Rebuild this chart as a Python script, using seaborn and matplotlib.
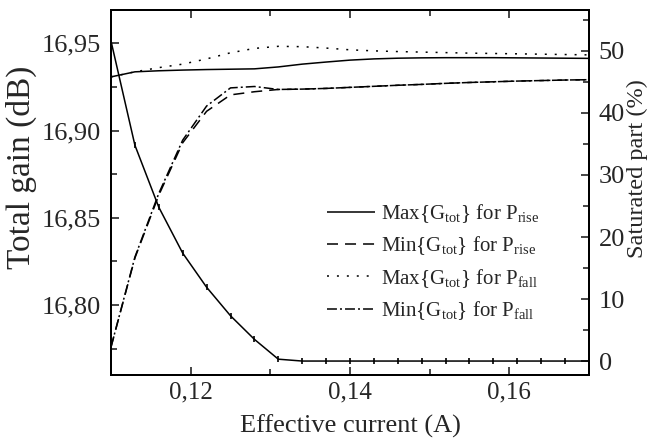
import matplotlib
matplotlib.use("Agg")
import matplotlib.pyplot as plt
import seaborn as sns
import pandas as pd
from matplotlib.ticker import MultipleLocator, FuncFormatter

# ---- data ----
current = [0.110, 0.113, 0.116, 0.119, 0.122, 0.125, 0.128, 0.131, 0.134, 0.137, 0.140,
           0.143, 0.146, 0.149, 0.152, 0.155, 0.158, 0.161, 0.164, 0.167, 0.170]
sat_part = [51.6, 34.8, 24.8, 17.4, 11.9, 7.3, 3.5, 0.3, 0.0, 0.0, 0.0,
            0.0, 0.0, 0.0, 0.0, 0.0, 0.0, 0.0, 0.0, 0.0, 0.0]
max_rise = [16.9307, 16.9336, 16.9342, 16.9346, 16.9349, 16.9351, 16.9353, 16.9364, 16.9380, 16.9392, 16.9403,
            16.9410, 16.9414, 16.9416, 16.9417, 16.9417, 16.9417, 16.9416, 16.9415, 16.9414, 16.9413]
min_rise = [16.7760, 16.8270, 16.8630, 16.8930, 16.9110, 16.9204, 16.9222, 16.9235, 16.9237, 16.9241, 16.9247,
            16.9253, 16.9259, 16.9264, 16.9270, 16.9275, 16.9279, 16.9283, 16.9286, 16.9289, 16.9291]
max_fall = [16.9307, 16.9336, 16.9360, 16.9380, 16.9410, 16.9445, 16.9470, 16.9482, 16.9480, 16.9472, 16.9462,
            16.9456, 16.9452, 16.9449, 16.9446, 16.9443, 16.9441, 16.9439, 16.9437, 16.9435, 16.9433]
min_fall = [16.7760, 16.8275, 16.8640, 16.8945, 16.9140, 16.9244, 16.9252, 16.9235, 16.9237, 16.9241, 16.9247,
            16.9253, 16.9259, 16.9264, 16.9270, 16.9275, 16.9279, 16.9283, 16.9286, 16.9289, 16.9291]

labels = [r"Max{G$_{\rm tot}$} for P$_{\rm rise}$",
          r"Min{G$_{\rm tot}$} for P$_{\rm rise}$",
          r"Max{G$_{\rm tot}$} for P$_{\rm fall}$",
          r"Min{G$_{\rm tot}$} for P$_{\rm fall}$"]

df = pd.DataFrame({"current": current, "sat": sat_part, "max_rise": max_rise,
                   "min_rise": min_rise, "max_fall": max_fall, "min_fall": min_fall})

sns.set_style("ticks")
plt.rcParams["font.family"] = ["Liberation Serif", "DejaVu Serif"]
plt.rcParams["mathtext.fontset"] = "custom"
plt.rcParams["mathtext.rm"] = "Liberation Serif"
plt.rcParams["mathtext.it"] = "Liberation Serif:italic"
plt.rcParams["mathtext.bf"] = "Liberation Serif:bold"

fig = plt.figure(figsize=(6.52, 4.41), dpi=100)
ax = fig.add_axes([111 / 652, 1 - 375 / 441, 478 / 652, 365 / 441])
ax2 = ax.twinx()

lw = 1.1
styles = [(0, ()), (0, (7.2, 4.6)), (0, (1.3, 5.2)), (0, (6.5, 2.0, 1.3, 2.0))]
cols = ["max_rise", "min_rise", "max_fall", "min_fall"]
for c, ls, lab in zip(cols, styles, labels):
    sns.lineplot(data=df, x="current", y=c, ax=ax, color="black", linewidth=lw,
                 linestyle=ls, label=lab)

sns.lineplot(data=df, x="current", y="sat", ax=ax2, color="black", linewidth=lw,
             marker="|", markersize=5, markeredgewidth=1.2, markeredgecolor="black")

ax.set_xlim(0.110, 0.170)
ax.set_ylim(16.760, 16.969)
ax2.set_ylim(-2.25, 56.6)

comma2 = FuncFormatter(lambda v, p: f"{v:.2f}".replace(".", ","))
ax.xaxis.set_major_locator(MultipleLocator(0.02))
ax.xaxis.set_minor_locator(MultipleLocator(0.01))
ax.xaxis.set_major_formatter(comma2)
ax.yaxis.set_major_locator(MultipleLocator(0.05))
ax.yaxis.set_minor_locator(MultipleLocator(0.025))
ax.yaxis.set_major_formatter(comma2)
ax2.yaxis.set_major_locator(MultipleLocator(10))
ax2.yaxis.set_minor_locator(MultipleLocator(5))

ax.tick_params(axis="x", which="both", direction="in", top=True, bottom=True, labelsize=18, pad=5)
ax.tick_params(axis="y", which="both", direction="in", left=True, right=False, labelsize=19, pad=7)
ax2.tick_params(axis="y", which="both", direction="in", labelsize=19, pad=7)
for a in (ax, ax2):
    a.tick_params(which="major", length=6, width=1.2)
    a.tick_params(which="minor", length=4, width=1.2)
    for s in a.spines.values():
        s.set_linewidth(1.4)
        s.set_color("black")

ax.set_xlabel("Effective current (A)", fontsize=19, labelpad=8)
ax.set_ylabel("Total gain (dB)", fontsize=24)
ax2.set_ylabel("Saturated part (%)", fontsize=17.5)
ax.yaxis.set_label_coords(-0.155, 0.568)
ax2.yaxis.set_label_coords(1.079, 0.566)

leg = ax.legend(loc="upper left", bbox_to_anchor=(0.452, 0.473), frameon=False,
                fontsize=15, handlelength=2.3, handletextpad=0.3, labelspacing=0.45,
                borderpad=0, borderaxespad=0)
for h in leg.get_lines():
    h.set_linewidth(lw)
if ax2.get_legend() is not None:
    ax2.get_legend().remove()

fig.savefig("out.png", dpi=100)
